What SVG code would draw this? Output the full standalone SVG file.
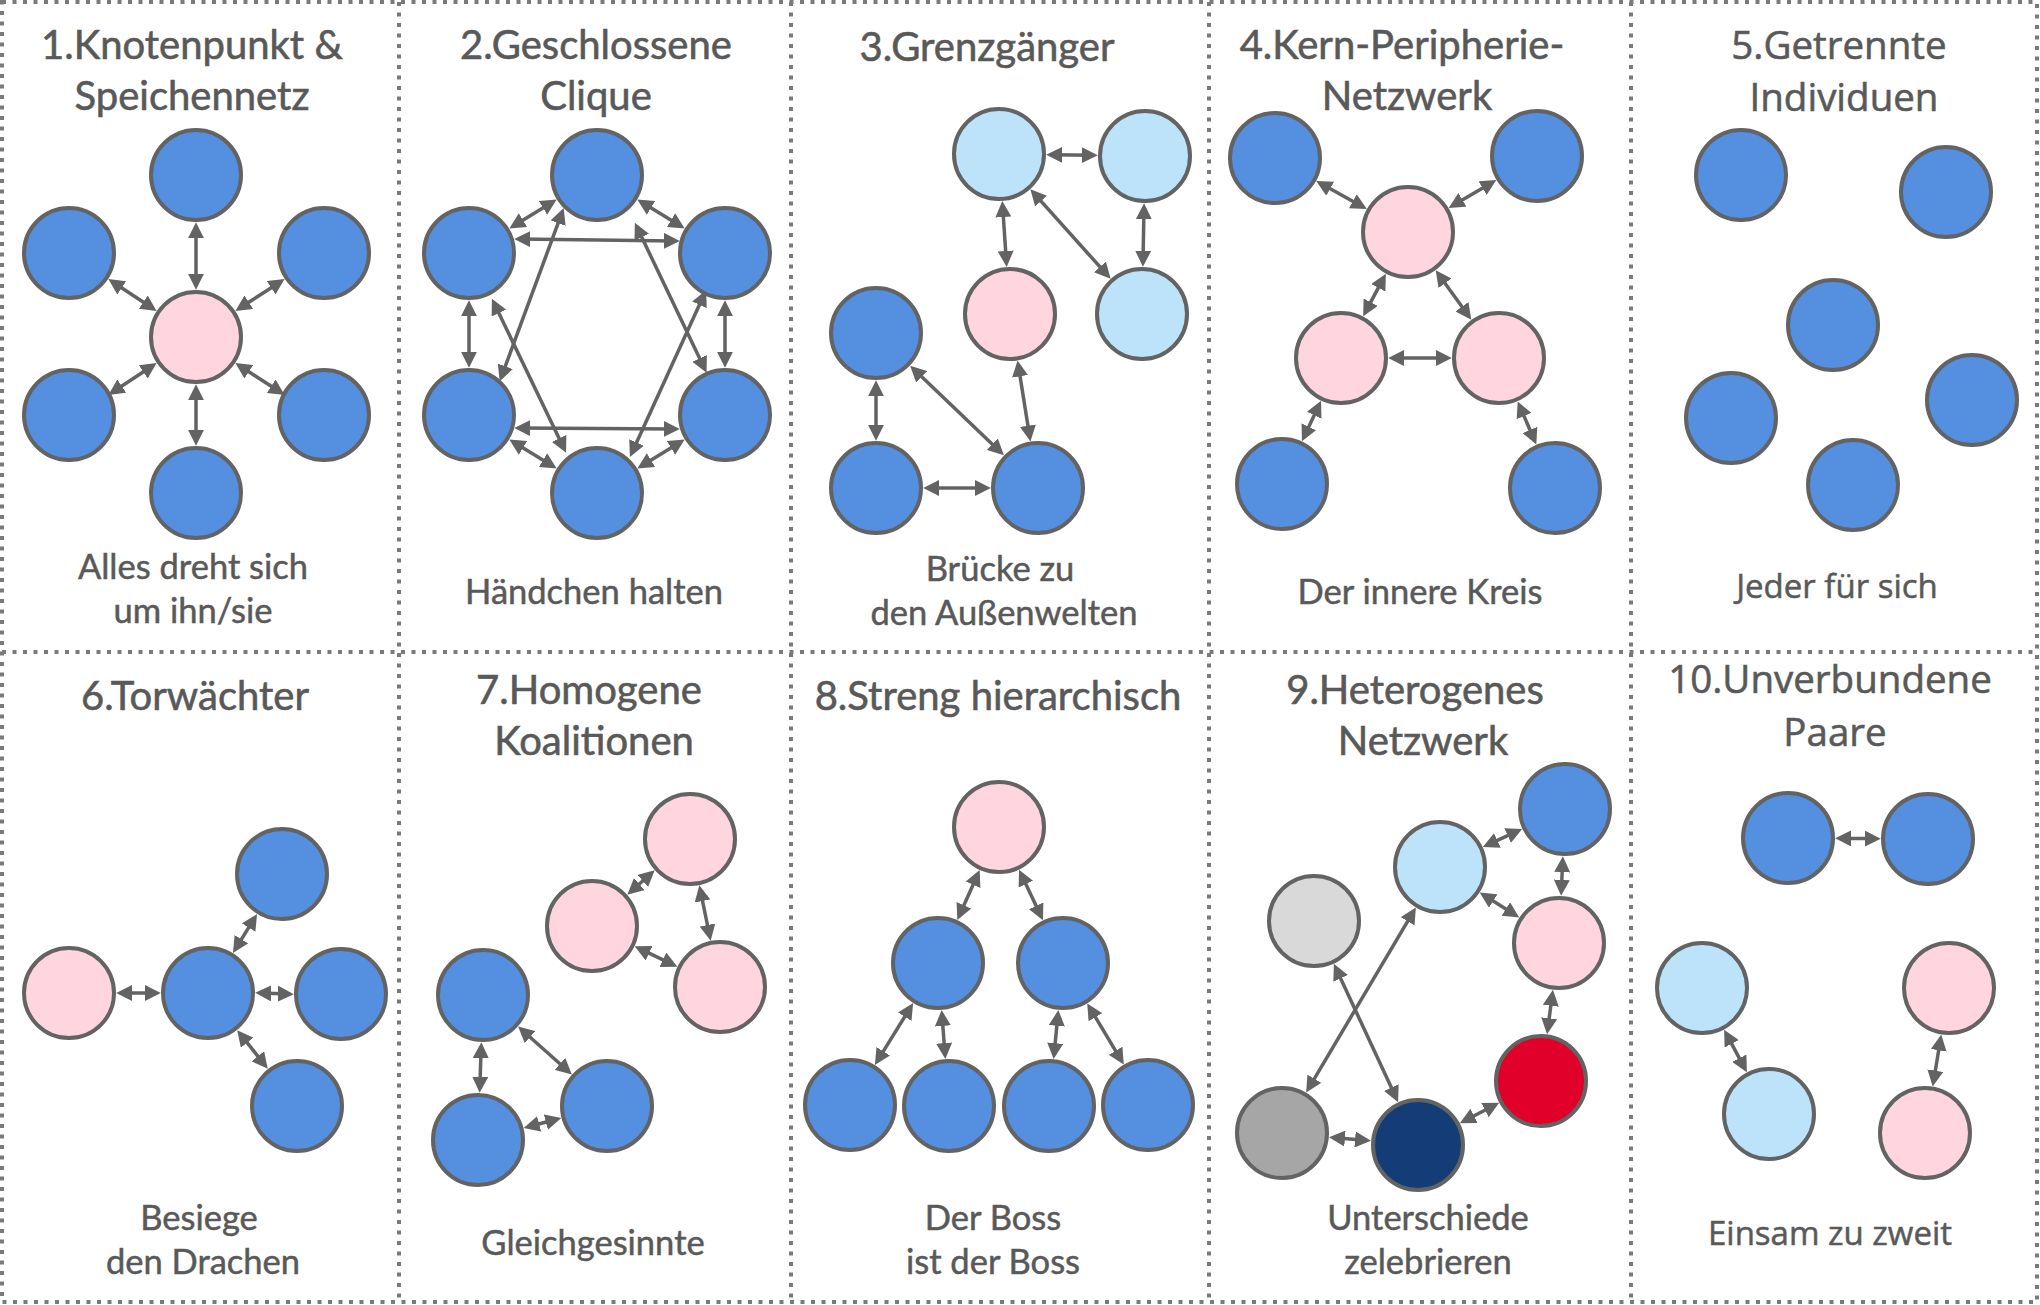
<svg xmlns="http://www.w3.org/2000/svg" width="2040" height="1305" viewBox="0 0 2040 1305">
<defs>
<marker id="ah" viewBox="0 0 10 10" refX="7" refY="5" markerWidth="16" markerHeight="16" markerUnits="userSpaceOnUse" orient="auto-start-reverse">
<path d="M0,0 L10,5 L0,10 z" fill="#636363"/>
</marker>
<style>
.bd{stroke:#7a7a7a;stroke-width:4;stroke-dasharray:4 6.5;fill:none}
.n{stroke:#636363;stroke-width:4}
.b{fill:#558FDF}
.lb{fill:#BDE3FA}
.p{fill:#FFD6DF}
.lg{fill:#D9D9D9}
.g{fill:#A6A6A6}
.nv{fill:#143D78}
.r{fill:#E00029}
.e line{stroke:#636363;stroke-width:3.5;marker-start:url(#ah);marker-end:url(#ah)}
.t{font-family:Lato,"Liberation Sans",sans-serif;font-size:40px;fill:#595959;stroke:#595959;stroke-width:0.6;text-anchor:middle}
.c{font-family:Lato,"Liberation Sans",sans-serif;font-size:34.5px;fill:#595959;stroke:#595959;stroke-width:0.5;text-anchor:middle}
.to{font-family:"Open Sans","Liberation Sans",sans-serif;font-size:38.5px;fill:#595959;stroke:#595959;stroke-width:0.6;text-anchor:middle}
.co{font-family:"Open Sans","Liberation Sans",sans-serif;font-size:33px;fill:#595959;stroke:#595959;stroke-width:0.5;text-anchor:middle}
</style>
</defs>
<rect width="2040" height="1305" fill="#ffffff"/>
<g id="borders">
<rect class="bd" x="2" y="2" width="2035" height="1300"/>
<line class="bd" x1="2" y1="652" x2="2037" y2="652"/>
<line class="bd" x1="399" y1="2" x2="399" y2="1302"/>
<line class="bd" x1="791" y1="2" x2="791" y2="1302"/>
<line class="bd" x1="1209" y1="2" x2="1209" y2="1302"/>
<line class="bd" x1="1631" y1="2" x2="1631" y2="1302"/>
</g>
<g id="connectors" class="e">
<!-- panel 1 -->
<line x1="196" y1="285" x2="196" y2="227"/>
<line x1="196" y1="389" x2="196" y2="441"/>
<line x1="152.6" y1="308.3" x2="112.4" y2="281.7"/>
<line x1="239.4" y1="308.3" x2="280.6" y2="281.7"/>
<line x1="152.6" y1="365.7" x2="112.4" y2="392.3"/>
<line x1="239.4" y1="365.7" x2="280.6" y2="392.3"/>
<!-- panel 2 -->
<line x1="552.6" y1="202.1" x2="513.4" y2="225.9"/>
<line x1="641.4" y1="202.1" x2="680.6" y2="225.9"/>
<line x1="552.6" y1="465.9" x2="513.4" y2="442.1"/>
<line x1="641.4" y1="465.9" x2="680.6" y2="442.1"/>
<line x1="469" y1="305" x2="469" y2="363"/>
<line x1="725" y1="305" x2="725" y2="363"/>
<line x1="519" y1="239" x2="675" y2="241"/>
<line x1="519" y1="428" x2="675" y2="429"/>
<line x1="562" y1="212.6" x2="501.4" y2="376.8"/>
<line x1="636.9" y1="227.1" x2="704.5" y2="368.5"/>
<line x1="494" y1="303" x2="564" y2="448.5"/>
<line x1="704.1" y1="294.6" x2="631.9" y2="452.7"/>
<!-- panel 3 -->
<line x1="1051" y1="154.7" x2="1093" y2="155.3"/>
<line x1="1002.6" y1="205.9" x2="1006.4" y2="262.1"/>
<line x1="1033.6" y1="192.8" x2="1107.4" y2="275.2"/>
<line x1="1144" y1="208" x2="1143" y2="262"/>
<line x1="1018.3" y1="365.3" x2="1029.7" y2="436.7"/>
<line x1="876" y1="385" x2="876" y2="436"/>
<line x1="913.6" y1="369" x2="1000.4" y2="452"/>
<line x1="928" y1="488" x2="986" y2="488"/>
<!-- panel 4 -->
<line x1="1320.4" y1="183.3" x2="1362.6" y2="206.7"/>
<line x1="1492.2" y1="182.4" x2="1452.8" y2="205.6"/>
<line x1="1383.6" y1="277.9" x2="1365.4" y2="312.1"/>
<line x1="1438.5" y1="274.2" x2="1468.5" y2="315.8"/>
<line x1="1393" y1="358" x2="1447" y2="358"/>
<line x1="1319" y1="405.1" x2="1304" y2="436.9"/>
<line x1="1519.6" y1="405.8" x2="1534.4" y2="440.2"/>
<!-- panel 6 -->
<line x1="121" y1="993" x2="156" y2="993"/>
<line x1="260" y1="993" x2="289" y2="994"/>
<line x1="235.5" y1="948.8" x2="254.5" y2="918.1"/>
<line x1="240.2" y1="1033.9" x2="264.8" y2="1065.1"/>
<!-- panel 7 -->
<line x1="630.9" y1="891.5" x2="651.1" y2="873.5"/>
<line x1="700.3" y1="890" x2="709.7" y2="936"/>
<line x1="639" y1="948.4" x2="673" y2="964.6"/>
<line x1="481.2" y1="1047" x2="479.8" y2="1088"/>
<line x1="521.7" y1="1029.7" x2="568.3" y2="1071.3"/>
<line x1="528.3" y1="1126.7" x2="556.7" y2="1119.3"/>
<!-- panel 8 -->
<line x1="977.7" y1="874.5" x2="959.3" y2="915.5"/>
<line x1="1021.1" y1="874" x2="1040.9" y2="916"/>
<line x1="910.6" y1="1007.2" x2="877.4" y2="1060.8"/>
<line x1="942" y1="1014.8" x2="945" y2="1054.2"/>
<line x1="1057.9" y1="1014.7" x2="1054.1" y2="1054.3"/>
<line x1="1089.7" y1="1007.6" x2="1121.3" y2="1060.4"/>
<!-- panel 9 -->
<line x1="1487.2" y1="845.1" x2="1517.8" y2="830.9"/>
<line x1="1483.8" y1="895" x2="1515.2" y2="915"/>
<line x1="1562.7" y1="861" x2="1561.3" y2="891"/>
<line x1="1552.3" y1="994.6" x2="1547.7" y2="1029.4"/>
<line x1="1494.9" y1="1105" x2="1464.1" y2="1121"/>
<line x1="1333.8" y1="1137.6" x2="1366.2" y2="1140.4"/>
<line x1="1413.4" y1="911.7" x2="1308.6" y2="1088.3"/>
<line x1="1335.9" y1="968.2" x2="1396.1" y2="1097.8"/>
<!-- panel 10 -->
<line x1="1840" y1="838.4" x2="1876" y2="838.6"/>
<line x1="1726.4" y1="1033.9" x2="1744.6" y2="1068.1"/>
<line x1="1940.5" y1="1039.3" x2="1933.5" y2="1081.7"/>
</g>
<g id="panel1">
<text class="t" x="192" y="59">1.Knotenpunkt &amp;</text>
<text class="t" x="192" y="110">Speichennetz</text>
<circle class="n b" cx="196" cy="175" r="45"/>
<circle class="n b" cx="69" cy="253" r="45"/>
<circle class="n b" cx="324" cy="253" r="45"/>
<circle class="n p" cx="196" cy="337" r="45"/>
<circle class="n b" cx="69" cy="415" r="45"/>
<circle class="n b" cx="324" cy="415" r="45"/>
<circle class="n b" cx="196" cy="493" r="45"/>
<text class="c" x="193" y="579">Alles dreht sich</text>
<text class="c" x="193" y="623">um ihn/sie</text>
</g>
<g id="panel2">
<text class="t" x="596" y="59">2.Geschlossene</text>
<text class="t" x="596" y="110">Clique</text>
<circle class="n b" cx="597" cy="175" r="45"/>
<circle class="n b" cx="469" cy="253" r="45"/>
<circle class="n b" cx="725" cy="253" r="45"/>
<circle class="n b" cx="469" cy="415" r="45"/>
<circle class="n b" cx="725" cy="415" r="45"/>
<circle class="n b" cx="597" cy="493" r="45"/>
<text class="c" x="594" y="604">Händchen halten</text>
</g>
<g id="panel3">
<text class="t" x="987" y="61">3.Grenzgänger</text>
<circle class="n lb" cx="999" cy="154" r="45"/>
<circle class="n lb" cx="1145" cy="156" r="45"/>
<circle class="n p" cx="1010" cy="314" r="45"/>
<circle class="n lb" cx="1142" cy="314" r="45"/>
<circle class="n b" cx="876" cy="333" r="45"/>
<circle class="n b" cx="876" cy="488" r="45"/>
<circle class="n b" cx="1038" cy="488" r="45"/>
<text class="c" x="1000" y="581">Brücke zu</text>
<text class="c" x="1004" y="625">den Außenwelten</text>
</g>
<g id="panel4">
<text class="t" x="1402" y="59">4.Kern-Peripherie-</text>
<text class="t" x="1407" y="110">Netzwerk</text>
<circle class="n b" cx="1275" cy="158" r="45"/>
<circle class="n b" cx="1537" cy="156" r="45"/>
<circle class="n p" cx="1408" cy="232" r="45"/>
<circle class="n p" cx="1341" cy="358" r="45"/>
<circle class="n p" cx="1499" cy="358" r="45"/>
<circle class="n b" cx="1282" cy="484" r="45"/>
<circle class="n b" cx="1555" cy="488" r="45"/>
<text class="c" x="1420" y="604">Der innere Kreis</text>
</g>
<g id="panel5">
<text class="to" x="1839" y="59">5.Getrennte</text>
<text class="to" x="1844" y="111">Individuen</text>
<circle class="n b" cx="1741" cy="175" r="45"/>
<circle class="n b" cx="1946" cy="192" r="45"/>
<circle class="n b" cx="1833" cy="325" r="45"/>
<circle class="n b" cx="1731" cy="418" r="45"/>
<circle class="n b" cx="1972" cy="400" r="45"/>
<circle class="n b" cx="1853" cy="485" r="45"/>
<text class="co" x="1837" y="598">Jeder für sich</text>
</g>
<g id="panel6">
<text class="t" x="195" y="710">6.Torwächter</text>
<circle class="n p" cx="69" cy="993" r="45"/>
<circle class="n b" cx="208" cy="993" r="45"/>
<circle class="n b" cx="282" cy="874" r="45"/>
<circle class="n b" cx="341" cy="994" r="45"/>
<circle class="n b" cx="297" cy="1106" r="45"/>
<text class="c" x="199" y="1230">Besiege</text>
<text class="c" x="203" y="1274">den Drachen</text>
</g>
<g id="panel7">
<text class="t" x="589" y="704">7.Homogene</text>
<text class="t" x="594" y="755">Koalitionen</text>
<circle class="n p" cx="690" cy="839" r="45"/>
<circle class="n p" cx="592" cy="926" r="45"/>
<circle class="n p" cx="720" cy="987" r="45"/>
<circle class="n b" cx="483" cy="995" r="45"/>
<circle class="n b" cx="478" cy="1140" r="45"/>
<circle class="n b" cx="607" cy="1106" r="45"/>
<text class="c" x="593" y="1255">Gleichgesinnte</text>
</g>
<g id="panel8">
<text class="t" x="998" y="710">8.Streng hierarchisch</text>
<circle class="n p" cx="999" cy="827" r="45"/>
<circle class="n b" cx="938" cy="963" r="45"/>
<circle class="n b" cx="1063" cy="963" r="45"/>
<circle class="n b" cx="850" cy="1105" r="45"/>
<circle class="n b" cx="949" cy="1106" r="45"/>
<circle class="n b" cx="1049" cy="1106" r="45"/>
<circle class="n b" cx="1148" cy="1105" r="45"/>
<text class="c" x="993" y="1230">Der Boss</text>
<text class="c" x="993" y="1274">ist der Boss</text>
</g>
<g id="panel9">
<text class="t" x="1415" y="704">9.Heterogenes</text>
<text class="t" x="1423" y="755">Netzwerk</text>
<circle class="n lg" cx="1314" cy="921" r="45"/>
<circle class="n lb" cx="1440" cy="867" r="45"/>
<circle class="n b" cx="1565" cy="809" r="45"/>
<circle class="n p" cx="1559" cy="943" r="45"/>
<circle class="n r" cx="1541" cy="1081" r="45"/>
<circle class="n g" cx="1282" cy="1133" r="45"/>
<circle class="n nv" cx="1418" cy="1145" r="45"/>
<text class="c" x="1428" y="1230">Unterschiede</text>
<text class="c" x="1428" y="1274">zelebrieren</text>
</g>
<g id="panel10">
<text class="to" x="1830" y="693">10.Unverbundene</text>
<text class="to" x="1835" y="746">Paare</text>
<circle class="n b" cx="1788" cy="838" r="45"/>
<circle class="n b" cx="1928" cy="839" r="45"/>
<circle class="n lb" cx="1702" cy="988" r="45"/>
<circle class="n lb" cx="1769" cy="1114" r="45"/>
<circle class="n p" cx="1949" cy="988" r="45"/>
<circle class="n p" cx="1925" cy="1133" r="45"/>
<text class="co" x="1830" y="1245">Einsam zu zweit</text>
</g>
</svg>
